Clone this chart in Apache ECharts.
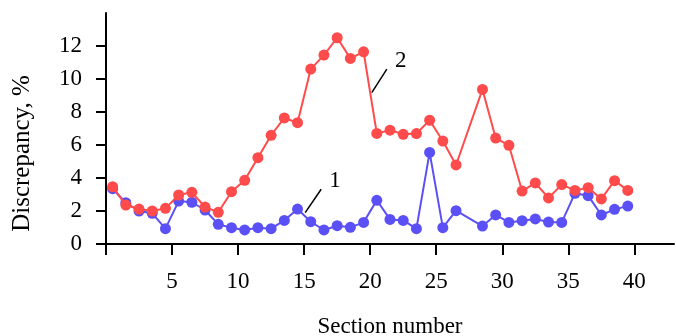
<!DOCTYPE html>
<html>
<head>
<meta charset="utf-8">
<script src="https://cdn.jsdelivr.net/npm/echarts@6/dist/echarts.min.js"></script>
<style>
  html, body { margin: 0; padding: 0; background: #fff; overflow: hidden; }
  #chart { width: 676px; height: 336px; }
</style>
</head>
<body>
<div id="chart"></div>
<script>
// section positions (27.5 has no measurement)
const sections = [0.5, 1.5, 2.5, 3.5, 4.5, 5.5, 6.5, 7.5, 8.5, 9.5,
  10.5, 11.5, 12.5, 13.5, 14.5, 15.5, 16.5, 17.5, 18.5, 19.5,
  20.5, 21.5, 22.5, 23.5, 24.5, 25.5, 26.5, 28.5, 29.5,
  30.5, 31.5, 32.5, 33.5, 34.5, 35.5, 36.5, 37.5, 38.5, 39.5];

const series1 = [3.35, 2.5, 2.0, 1.86, 0.93, 2.6, 2.53, 2.06, 1.19, 0.99,
  0.85, 0.99, 0.93, 1.43, 2.12, 1.35, 0.85, 1.11, 1.01, 1.31,
  2.65, 1.49, 1.43, 0.93, 5.55, 0.99, 2.02, 1.09, 1.76,
  1.31, 1.41, 1.52, 1.33, 1.31, 3.07, 2.93, 1.76, 2.1, 2.3];

const series2 = [3.47, 2.36, 2.12, 2.0, 2.16, 2.97, 3.13, 2.24, 1.92, 3.17,
  3.86, 5.23, 6.59, 7.64, 7.35, 10.6, 11.45, 12.5, 11.25, 11.65,
  6.7, 6.9, 6.65, 6.69, 7.5, 6.24, 4.79, 9.37, 6.42,
  5.98, 3.21, 3.7, 2.79, 3.6, 3.25, 3.41, 2.73, 3.84, 3.25];

const xTicks = [0, 5, 10, 15, 20, 25, 30, 35, 40];
const xLabels = [5, 10, 15, 20, 25, 30, 35, 40];
const yTicks = [0, 2, 4, 6, 8, 10, 12];

const font = 'Liberation Serif';
const blue = '#5b50f5';
const red = '#ff4b4b';

const chart = echarts.init(document.getElementById('chart'), null, { width: 676, height: 336 });

function pairs(ys) {
  return sections.map((x, i) => [x, ys[i]]);
}

function leader(from, to, text) {
  return {
    markLine: {
      silent: true,
      symbol: 'none',
      lineStyle: { color: '#000', width: 1.5, type: 'solid' },
      label: { show: false },
      data: [[{ coord: from }, { coord: to }]]
    },
    markPoint: {
      silent: true,
      symbolSize: 0,
      label: { show: true, position: 'inside', color: '#000', fontFamily: font, fontSize: 23, formatter: text },
      data: [{ coord: [to[0] + 1.05, to[1] + 0.5] }]
    }
  };
}

const option = {
  animation: false,
  grid: { left: 106, right: 2, top: 13, bottom: 92, containLabel: false, outerBoundsMode: 'none' },
  xAxis: {
    type: 'value',
    min: 0,
    max: 43,
    name: 'Section number',
    nameLocation: 'middle',
    nameGap: 71,
    nameTextStyle: { fontFamily: font, fontSize: 23, color: '#000' },
    axisLine: { lineStyle: { color: '#000', width: 2 } },
    axisTick: { show: true, length: 11, customValues: xTicks, lineStyle: { color: '#000', width: 2 } },
    axisLabel: { customValues: xLabels, margin: 26, fontFamily: font, fontSize: 23, color: '#000' },
    splitLine: { show: false }
  },
  yAxis: {
    type: 'value',
    min: 0,
    max: 14,
    name: 'Discrepancy, %',
    nameLocation: 'middle',
    nameGap: 71,
    nameTextStyle: { fontFamily: font, fontSize: 25, color: '#000', padding: [0, 50, 0, 0] },
    axisLine: { show: true, lineStyle: { color: '#000', width: 2 } },
    axisTick: { show: true, length: 10, customValues: yTicks, lineStyle: { color: '#000', width: 2 } },
    axisLabel: { customValues: yTicks, margin: 24, fontFamily: font, fontSize: 23, color: '#000' },
    splitLine: { show: false }
  },
  series: [
    Object.assign({
      name: '1',
      type: 'line',
      data: pairs(series1),
      symbol: 'circle',
      symbolSize: 11,
      itemStyle: { color: blue },
      lineStyle: { color: blue, width: 2 },
      z: 2
    }, leader([15.08, 1.9], [16.29, 3.32], '1')),
    Object.assign({
      name: '2',
      type: 'line',
      data: pairs(series2),
      symbol: 'circle',
      symbolSize: 11,
      itemStyle: { color: red },
      lineStyle: { color: red, width: 2 },
      z: 3
    }, leader([20.12, 9.17], [21.26, 10.6], '2'))
  ]
};

chart.setOption(option);
</script>
</body>
</html>
